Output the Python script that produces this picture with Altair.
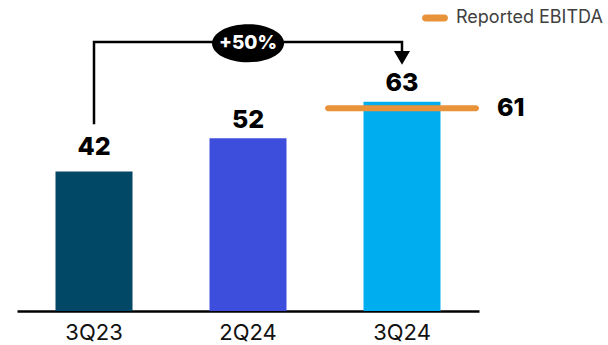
import altair as alt
import pandas as pd

# ---- data ----
quarters = ["3Q23", "2Q24", "3Q24"]
ebitda = [42, 52, 63]
bar_colors = ["#004865", "#3e4edc", "#00aeef"]

reported_quarter = ["3Q24"]
reported_value = [61]
reported_name = ["Reported EBITDA"]
reported_color = ["#e8923a"]

growth_text = ["+50%"]
# bracket path (data units): from 3Q23 up, across, down to arrow on 3Q24
bracket_q = ["3Q23", "3Q23", "3Q24", "3Q24"]
bracket_v = [56.2, 81.0, 81.0, 78.0]
arrow_q = ["3Q24"]
arrow_v = [76.2]
badge_q = ["2Q24"]
badge_v = [80.6]

FONT = "Inter"

bars_df = pd.DataFrame({"quarter": quarters, "value": ebitda})
rep_df = pd.DataFrame({"quarter": reported_quarter, "value": reported_value, "name": reported_name})
br_df = pd.DataFrame({"quarter": bracket_q, "value": bracket_v, "order": list(range(len(bracket_q)))})
arrow_df = pd.DataFrame({"quarter": arrow_q, "value": arrow_v})
badge_df = pd.DataFrame({"quarter": badge_q, "value": badge_v, "text": growth_text})

xscale = alt.Scale(domain=quarters, paddingInner=0.5, paddingOuter=0.25)
yscale = alt.Scale(domain=[0, 90], nice=False, zero=True)

X = alt.X("quarter:N", scale=xscale, sort=quarters,
          axis=alt.Axis(title=None, labelAngle=0, ticks=False, domainColor="#000000",
                        domainWidth=2.5, labelFont=FONT, labelFontSize=22,
                        labelColor="#111111", labelPadding=11, grid=False))
Y = alt.Y("value:Q", scale=yscale, axis=None)

bars = alt.Chart(bars_df).mark_bar().encode(
    x=X, y=Y,
    color=alt.Color("quarter:N", scale=alt.Scale(domain=quarters, range=bar_colors), legend=None),
)

# the first label sits a little higher above its bar
labels = alt.Chart(bars_df).transform_calculate(
    label_y="datum.quarter == '3Q23' ? datum.value + 1.8 : datum.value"
).mark_text(
    dy=-10.5, baseline="alphabetic", font=FONT, fontSize=25, fontWeight=800, color="#000000"
).encode(x=X, y=alt.Y("label_y:Q", scale=yscale, axis=None), text=alt.Text("value:Q"))

capsule = ("M-0.73,-0.27 L0.73,-0.27 A0.27,0.27 0 0 1 0.73,0.27 "
           "L-0.73,0.27 A0.27,0.27 0 0 1 -0.73,-0.27 Z")

reported = alt.Chart(rep_df).mark_tick(size=154, thickness=6, cornerRadius=3, opacity=1).encode(
    x=X, y=Y,
    fill=alt.Fill("name:N", scale=alt.Scale(domain=reported_name, range=reported_color),
                  legend=alt.Legend(title=None, orient="none", legendX=405, legendY=-7,
                                    symbolType=capsule, symbolSize=676, symbolStrokeWidth=0,
                                    labelFont=FONT, labelFontSize=18, labelColor="#404040",
                                    labelOffset=8, padding=0)),
)

rep_label = alt.Chart(rep_df).mark_text(
    dx=95, align="left", baseline="middle", font=FONT, fontSize=25, fontWeight=800, color="#000000"
).encode(x=X, y=Y, text=alt.Text("value:Q"))

bracket = alt.Chart(br_df).mark_line(color="#000000", strokeWidth=2.5, strokeJoin="miter").encode(
    x=X, y=Y, order=alt.Order("order:Q")
)

arrow = alt.Chart(arrow_df).mark_point(
    shape="triangle-down", size=256, filled=True, color="#000000", opacity=1, strokeWidth=0
).encode(x=X, y=Y)

ellipse = "M-1,0 A1,0.53 0 1,0 1,0 A1,0.53 0 1,0 -1,0 Z"
badge = alt.Chart(badge_df).mark_point(
    shape=ellipse, size=5184, filled=True, color="#000000", opacity=1, strokeWidth=0
).encode(x=X, y=Y)

badge_text = alt.Chart(badge_df).mark_text(
    baseline="middle", font=FONT, fontSize=19, fontWeight=800, color="#ffffff"
).encode(x=X, y=Y, text="text:N")

chart = alt.layer(
    bars, reported, labels, rep_label, bracket, arrow, badge, badge_text
).properties(
    width=462, height=299,
    autosize=alt.AutoSizeParams(type="none"),
    padding={"left": 17, "top": 12, "right": 129, "bottom": 34},
).configure_view(stroke=None)

chart.save("out.html", embed_options={"renderer": "svg", "actions": False})
